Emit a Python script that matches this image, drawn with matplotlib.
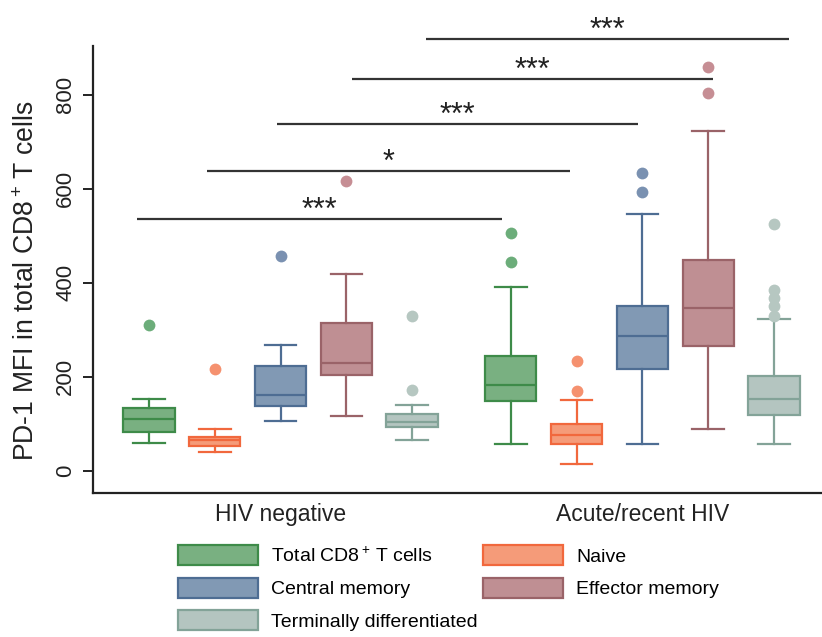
import numpy as np
import matplotlib
matplotlib.use("Agg")
import matplotlib.pyplot as plt
from matplotlib.patches import Patch

plt.rcParams['font.family'] = ['Liberation Sans', 'DejaVu Sans']
plt.rcParams['mathtext.fontset'] = 'custom'
plt.rcParams['mathtext.rm'] = 'Liberation Sans'

# cell subsets and groups
subsets = ["Total CD8$^+\\!$ T cells", "Naive", "Central memory",
           "Effector memory", "Terminally differentiated"]
groups = ["HIV negative", "Acute/recent HIV"]

# box summaries per group, one entry per subset
whislo_neg = [59, 41, 106, 117, 66]
q1_neg = [82, 54, 139, 203, 94]
med_neg = [110, 65, 161, 230, 103]
q3_neg = [134, 73, 224, 315, 121]
whishi_neg = [153, 89, 267, 419, 140]
fliers_neg = [[311], [217], [457], [617], [329, 172]]

whislo_hiv = [58, 15, 57, 89, 58]
q1_hiv = [149, 57, 217, 266, 119]
med_hiv = [183, 77, 286, 347, 154]
q3_hiv = [245, 99, 350, 449, 201]
whishi_hiv = [392, 150, 546, 724, 323]
fliers_hiv = [[506, 445], [234, 171], [633, 594], [860, 805],
              [525, 384, 367, 350, 330]]

# significance brackets: (x start, x end, y, label)
sig_x0 = [-0.18, 0.88, 1.95, 3.09, 4.21]
sig_x1 = [5.36, 6.40, 7.43, 8.57, 9.73]
sig_y = [536, 638, 738, 834, 919]
sig_txt = ["***", "*", "***", "***", "***"]

fills = ["#79b081", "#f59b79", "#8199b4", "#bf8f93", "#b4c5c0"]
edges = ["#3e8b49", "#f1683d", "#4e6d93", "#9a6368", "#83a398"]
flier_cols = ["#6cad7a", "#f5916f", "#7a91b1", "#c68e94", "#b6c7c1"]

fig = plt.figure(figsize=(8.22, 6.37), dpi=100)
ax = fig.add_axes([93 / 822, 1 - 493 / 637, 1 - 93 / 822, 447 / 637])

group_off = [0, 5.5]
all_lo = [whislo_neg, whislo_hiv]
all_q1 = [q1_neg, q1_hiv]
all_med = [med_neg, med_hiv]
all_q3 = [q3_neg, q3_hiv]
all_hi = [whishi_neg, whishi_hiv]
all_fl = [fliers_neg, fliers_hiv]

for g in range(2):
    for i in range(5):
        st = dict(whislo=all_lo[g][i], q1=all_q1[g][i], med=all_med[g][i],
                  q3=all_q3[g][i], whishi=all_hi[g][i], fliers=all_fl[g][i])
        lw = 1.6
        ax.bxp([st], positions=[i + group_off[g]], widths=0.78, capwidths=0.48,
               patch_artist=True, showfliers=True,
               boxprops=dict(facecolor=fills[i], edgecolor=edges[i], linewidth=lw),
               medianprops=dict(color=edges[i], linewidth=lw),
               whiskerprops=dict(color=edges[i], linewidth=lw),
               capprops=dict(color=edges[i], linewidth=lw),
               flierprops=dict(marker='o', markerfacecolor=flier_cols[i],
                               markeredgecolor='none', markersize=8.5))

for x0, x1, y, t in zip(sig_x0, sig_x1, sig_y, sig_txt):
    ax.plot([x0, x1], [y, y], color='#333333', lw=1.6, clip_on=False,
            solid_capstyle='butt')
    ax.annotate(t, ((x0 + x1) / 2, y), xytext=(0, 0), textcoords='offset points',
                ha='center', va='baseline', fontsize=22, color='#222222',
                annotation_clip=False)

ax.set_xlim(-0.85, 10.23)
ax.set_ylim(-47, 904)
ax.set_yticks([0, 200, 400, 600, 800])
ax.tick_params(axis='y', labelsize=16, length=7, width=1.4, labelrotation=90,
               colors='#222222', pad=5)
for lab in ax.get_yticklabels():
    lab.set_va('center')
ax.set_xticks([2, 7.5])
ax.set_xticklabels(groups, fontsize=16.5, color='#222222')
ax.tick_params(axis='x', length=0, pad=7)
ax.spines['top'].set_visible(False)
ax.spines['right'].set_visible(False)
ax.spines['left'].set_linewidth(1.6)
ax.spines['bottom'].set_linewidth(1.6)
ax.spines['left'].set_color('#222222')
ax.spines['bottom'].set_color('#222222')
ax.set_ylabel("PD-1 MFI in total CD8$^+\\!$ T cells", fontsize=19.2, color='#222222')
ax.yaxis.set_label_coords(-0.073, 0.474)

order = [0, 2, 4, 1, 3]
handles = [Patch(facecolor=fills[k], edgecolor=edges[k], linewidth=1.6) for k in order]
labels = [subsets[k] for k in order]
fig.legend(handles, labels, ncol=2, loc='upper left',
           bbox_to_anchor=(178 / 822, 1 - 545 / 637), frameon=False,
           fontsize=14, handlelength=4.1, handleheight=1.2, handletextpad=0.7,
           labelspacing=0.62, columnspacing=0.25, borderpad=0, borderaxespad=0)

fig.savefig("out.png", dpi=100)
